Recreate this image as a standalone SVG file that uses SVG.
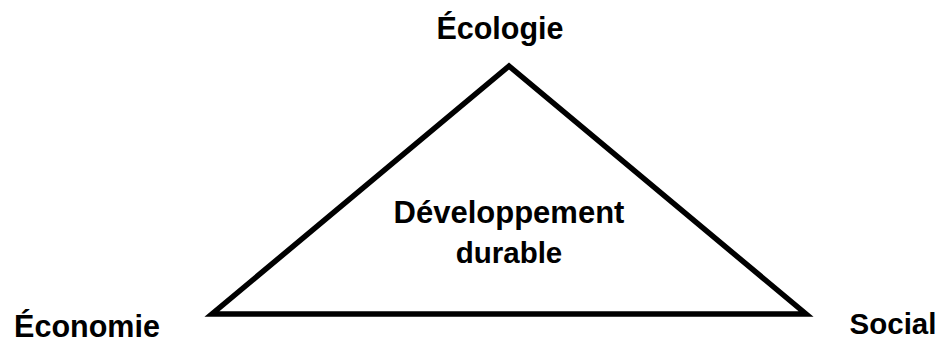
<svg xmlns="http://www.w3.org/2000/svg" width="942" height="344" viewBox="0 0 942 344">
<style>
.lbl{font-family:"Liberation Sans",Arial,sans-serif;font-weight:bold;font-size:30.5px;fill:#000;text-anchor:middle}
.edge{fill:none;stroke:#000;stroke-width:5.5;stroke-linejoin:miter}
</style>
<rect width="942" height="344" fill="#fff"/>
<g id="connectors">
<path class="edge" d="M509,66 L212,314 L806,314 Z"/>
</g>
<g id="ecologie"><text class="lbl" x="500" y="38.5">Écologie</text></g>
<g id="economie"><text class="lbl" x="87" y="336.5">Économie</text></g>
<g id="social"><text class="lbl" x="893" y="334" style="font-size:29.5px">Social</text></g>
<g id="dd"><text class="lbl" x="509" y="223" style="font-size:31px">Développement</text><text class="lbl" x="509" y="262.5" style="font-size:29.5px">durable</text></g>
</svg>
